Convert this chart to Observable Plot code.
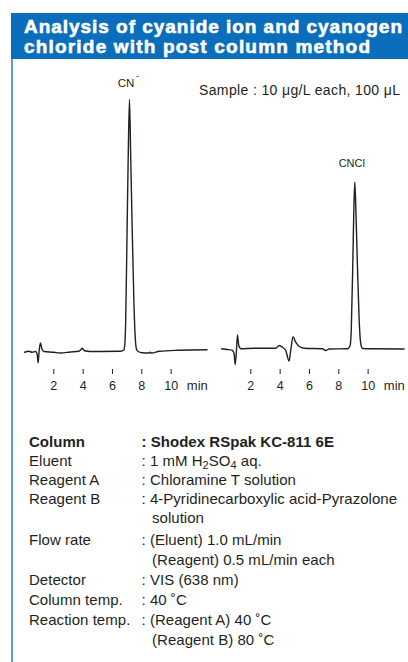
<!DOCTYPE html>
<html>
<head>
<meta charset="utf-8">
<script src="https://cdn.jsdelivr.net/npm/d3@7"></script>
<script src="https://cdn.jsdelivr.net/npm/@observablehq/plot@0.6"></script>
<style>
  html, body { margin: 0; padding: 0; background: #fff; }
  #wrap { position: relative; width: 408px; height: 662px; overflow: hidden; background: #fff;
          font-family: "Liberation Sans", Arial, Helvetica, sans-serif; color: #231f20; }
  #header { position: absolute; left: 11px; top: 13px; width: 397px; height: 46px; background: #0a6ebd; }
  .tline { position: absolute; left: 24px; color: #fff; font-weight: bold; font-size: 19px;
           line-height: 20px; white-space: nowrap; -webkit-text-stroke: 0.6px #fff; }
  #leftline { position: absolute; left: 11px; top: 59px; width: 1.5px; height: 610px; background: #5b9fd8; }
  .chart { position: absolute; top: 60px; }
  #sample { position: absolute; left: 199px; top: 81px; font-size: 14px; line-height: 18px; white-space: nowrap; }
  .row { position: absolute; font-size: 15px; white-space: nowrap; line-height: 18px; }
  .k { left: 29px; }
  .v { left: 141.5px; }
  .c { left: 152px; }
  sub { font-size: 11px; vertical-align: -3px; line-height: 0; }
</style>
</head>
<body>
<div id="wrap">
  <div id="header"></div>
  <div id="leftline"></div>
  <div id="title"></div>
  <div id="sample"></div>
  <div id="left" class="chart" style="left:0px"></div>
  <div id="right" class="chart" style="left:196.7px"></div>
  <div id="info"></div>
</div>
<script>
// ---------- data ----------
const titleLines = ["Analysis of cyanide ion and cyanogen", "chloride with post column method"];
const sampleText = "Sample : 10 μg/L each, 100 μL";
const xTicks = [2, 4, 6, 8, 10];
const xUnit = "min";

// Chromatogram 1 (CN-): retention time (min) and detector signal (relative, CN- peak = 100)
const cnTime = [0, 0.29, 0.52, 0.75, 0.86, 0.93, 1.0, 1.09, 1.18, 1.32, 2.0, 2.45, 3.14, 3.70, 3.85, 3.93, 4.02, 4.09, 4.5, 6.54, 6.77, 6.84, 6.90, 7.0, 7.08, 7.16, 7.24, 7.34, 7.46, 7.55, 7.62, 7.70, 8.02, 8.47, 8.56, 8.65, 9.2, 10.5, 12.45];
const cnSignal = [-0.1, 0.3, -0.1, 0.2, -0.7, -4.3, 0.6, 3.6, 1.3, 0.2, -0.1, -0.4, 0, 0.3, 1.0, 1.5, 1.0, 0.5, 0.2, 0.3, 0.8, 3, 12, 50, 80, 100, 78, 50, 20, 6, 1.5, 0.4, -0.3, -0.4, -0.1, -0.4, 0.3, 0.7, 0.9];

// Chromatogram 2 (CNCl)
const cnclTime = [0, 0.41, 0.75, 0.86, 0.93, 1.02, 1.09, 1.18, 1.32, 2.22, 3.70, 3.93, 4.16, 4.38, 4.61, 4.72, 4.88, 5.06, 5.29, 5.63, 6.88, 7.11, 7.34, 8.59, 8.77, 8.85, 8.95, 9.02, 9.09, 9.17, 9.27, 9.38, 9.47, 9.55, 9.65, 10.2, 12.45];
const cnclSignal = [1.3, 1.0, 0.6, -0.7, -4.95, 0.6, 6.8, 2.6, 1.3, 1.5, 1.5, 2.6, 1.9, 0.6, -3.6, 0.6, 6.1, 3.9, 2.3, 1.5, 1.3, 0.6, 1.2, 1.3, 2.5, 9, 34, 55, 67.3, 55, 34, 14, 4.5, 2, 1.4, 1.3, 1.2];

const peakNames = ["CN", "CNCl"];
const peakTimes = [7.16, 9.09];
const peakHeights = [100, 67.3];

const infoKeys = ["Column", "Eluent", "Reagent A", "Reagent B", "", "Flow rate", "", "Detector", "Column temp.", "Reaction temp.", ""];
const infoValues = [": Shodex RSpak KC-811 6E", ": 1 mM H<sub>2</sub>SO<sub>4</sub> aq.", ": Chloramine T solution",
  ": 4-Pyridinecarboxylic acid-Pyrazolone", "solution", ": (Eluent) 1.0 mL/min", "(Reagent) 0.5 mL/min each",
  ": VIS (638 nm)", ": 40 ˚C", ": (Reagent A) 40 ˚C", "(Reagent B) 80 ˚C"];
const infoRowY = [441.7, 460.5, 479.5, 498.5, 518, 540, 560, 580, 600, 620, 640];

// ---------- build ----------
function fitSpacing(el, text, target) {
  const w = el.getBoundingClientRect().width;
  return (target - w) / (text.length - 1);
}
const titleBox = document.getElementById("title");
const titleTops = [17, 36.5];
const titleWidths = [378, 346];
titleLines.forEach((line, i) => {
  const s = document.createElement("span");
  s.className = "tline"; s.style.top = titleTops[i] + "px"; s.textContent = line;
  titleBox.append(s);
  s.style.letterSpacing = fitSpacing(s, line, titleWidths[i]) + "px";
});
const sample = document.getElementById("sample");
sample.textContent = sampleText;
sample.style.letterSpacing = fitSpacing(sample, sampleText, 201) + "px";

const ink = "#231f20";
function chart(times, signal, peakIdx) {
  const data = times.map((t, i) => ({t, v: signal[i]}));
  const peak = [{t: peakTimes[peakIdx], v: peakHeights[peakIdx], name: peakNames[peakIdx]}];
  const marks = [
    Plot.axisX({ticks: xTicks, tickSize: 5, tickPadding: 7, fontSize: 12.5, tickFormat: d => d, label: null, color: ink, stroke: ink}),
    Plot.line(data, {x: "t", y: "v", curve: "monotone-x", stroke: ink, strokeWidth: 1.4}),
    Plot.text([xUnit], {frameAnchor: "bottom-right", dy: 16.5, textAnchor: "end", lineAnchor: "middle", fontSize: 13, fill: ink})
  ];
  if (peakIdx === 0) {
    marks.push(Plot.text(peak, {x: "t", y: "v", text: "name", dy: -16, dx: -3.5, fontSize: 11.5, fill: ink, lineAnchor: "middle"}));
    marks.push(Plot.text(peak, {x: "t", y: "v", text: () => "-", dy: -23, dx: 8, fontSize: 9, fill: ink, lineAnchor: "middle"}));
  } else {
    marks.push(Plot.text(peak, {x: "t", y: "v", text: "name", dy: -19, dx: -3, fontSize: 11, fill: ink, lineAnchor: "middle"}));
  }
  return Plot.plot({
    width: 210, height: 340,
    marginLeft: 24, marginRight: 2.7, marginTop: 13.75, marginBottom: 31,
    style: {background: "none", overflow: "visible", fontFamily: "Liberation Sans, Arial, sans-serif"},
    x: {domain: [0, 12.5]},
    y: {domain: [-6.93, 110], axis: null},
    marks
  });
}
document.getElementById("left").append(chart(cnTime, cnSignal, 0));
document.getElementById("right").append(chart(cnclTime, cnclSignal, 1));

const info = document.getElementById("info");
const rowEls = [];
let refRow = null;
infoKeys.forEach((k, i) => {
  const y = infoRowY[i] - 9;
  if (k) {
    const d = document.createElement("div");
    d.className = "row k"; d.style.top = y + "px"; d.textContent = k;
    if (i === 0) d.style.fontWeight = "bold";
    info.append(d); rowEls.push(d);
  }
  const v = document.createElement("div");
  v.className = "row " + (k ? "v" : "c"); v.style.top = y + "px"; v.innerHTML = infoValues[i];
  if (i === 0) v.style.fontWeight = "bold";
  info.append(v); rowEls.push(v);
  if (i === 3) refRow = v;
});
const rowSpacing = fitSpacing(refRow, refRow.textContent, 255.5);
rowEls.forEach(el => el.style.letterSpacing = rowSpacing + "px");
</script>
</body>
</html>
